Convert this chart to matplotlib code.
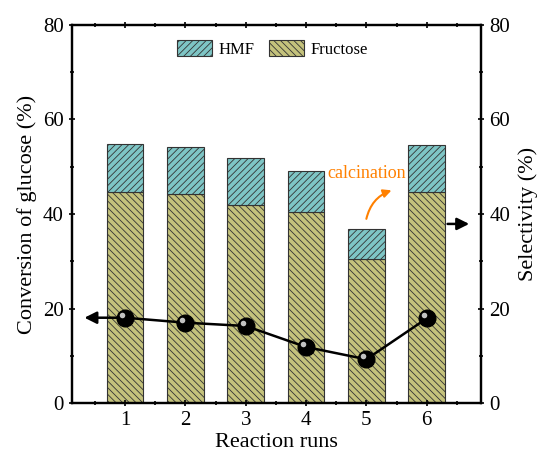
import matplotlib.pyplot as plt
import numpy as np
from matplotlib import transforms

plt.rcParams['font.family'] = ['Liberation Serif', 'DejaVu Serif']
plt.rcParams['hatch.linewidth'] = 0.6

runs = [1, 2, 3, 4, 5, 6]
fructose = [44.6, 44.3, 42.0, 40.4, 30.4, 44.6]
total = [54.9, 54.2, 51.9, 49.0, 36.9, 54.7]
hmf = [t - f for t, f in zip(total, fructose)]
conversion = [18.05, 17.0, 16.3, 11.85, 9.25, 17.9]

fig = plt.figure(figsize=(5.39, 4.54), dpi=100)
ax = fig.add_axes([72 / 539, 1 - 403 / 454, 409 / 539, 378 / 454])
ax2 = ax.twinx()

# bars on selectivity axis
ax2.bar(runs, fructose, width=0.61, color='#c4c27c', edgecolor='#333333',
        hatch='\\\\\\\\\\', linewidth=0.8, label='Fructose')
ax2.bar(runs, hmf, bottom=fructose, width=0.61, color='#7ec5c5',
        edgecolor='#333333', hatch='/////', linewidth=0.8, label='HMF')

# conversion line with sphere markers
ax.set_zorder(ax2.get_zorder() + 1)
ax.patch.set_visible(False)
ax.plot(runs, conversion, color='black', lw=1.8, marker='o', ms=12,
        mfc='black', mec='black')
off = transforms.offset_copy(ax.transData, fig=fig, x=-2.2, y=2.2, units='points')
ax.plot(runs, conversion, ls='none', marker='o', ms=4, mfc='#d8d8d8',
        mec='none', alpha=0.9, transform=off)

# direction arrows
ax.annotate('', xy=(0.28, conversion[0]), xytext=(runs[0], conversion[0]),
            arrowprops=dict(arrowstyle='-|>', color='black', lw=1.8,
                            mutation_scale=18), zorder=0)
ax.annotate('', xy=(6.75, 37.9), xytext=(6.3, 37.9),
            arrowprops=dict(arrowstyle='-|>', color='black', lw=1.8,
                            mutation_scale=18))

# calcination label
ax.text(5.0, 48.5, 'calcination', color='#ff8000', fontsize=13,
        ha='center', va='center')
ax.annotate('', xy=(5.46, 45.2), xytext=(4.99, 38.4),
            arrowprops=dict(arrowstyle='-|>', color='#ff8000', lw=1.5,
                            mutation_scale=12,
                            connectionstyle='arc3,rad=-0.3'))

for a in (ax, ax2):
    a.set_xlim(0.12, 6.9)
    a.set_ylim(0, 80)
    a.set_yticks([0, 20, 40, 60, 80])
    a.set_yticks([10, 30, 50, 70], minor=True)
    for s in a.spines.values():
        s.set_linewidth(1.6)

ax.set_xticks(runs)
ax.set_xticks(np.arange(0.5, 7.0, 0.5), minor=True)
ax.tick_params(which='both', direction='inout', top=True, labelsize=15, width=1.2)
ax.tick_params(which='major', length=5)
ax.tick_params(which='minor', length=3)
ax2.tick_params(which='both', direction='inout', labelsize=15, width=1.2)
ax2.tick_params(which='major', length=5)
ax2.tick_params(which='minor', length=3)

ax.set_xlabel('Reaction runs', fontsize=16, labelpad=2)
ax.set_ylabel('Conversion of glucose (%)', fontsize=16, labelpad=4)
ax2.set_ylabel('Selectivity (%)', fontsize=16, labelpad=6)

h, l = ax2.get_legend_handles_labels()
ax2.legend(h[::-1], l[::-1], loc='upper center', bbox_to_anchor=(0.49, 1.0),
           ncol=2, frameon=False, fontsize=12, handlelength=2.1,
           handleheight=1.1, columnspacing=0.9, handletextpad=0.35)

fig.savefig('out.png', dpi=100)
